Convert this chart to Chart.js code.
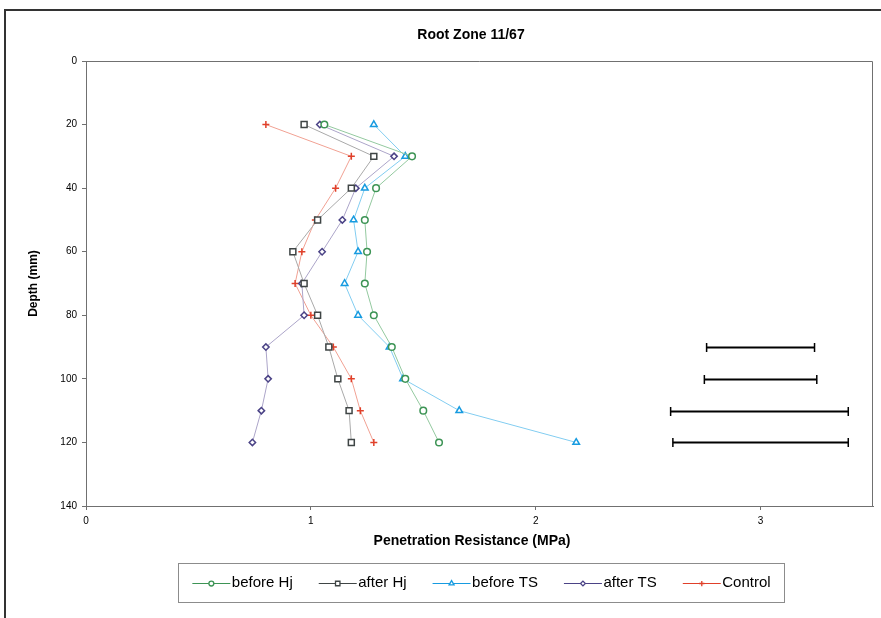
<!DOCTYPE html>
<html>
<head>
<meta charset="utf-8">
<title>Root Zone 11/67</title>
<script src="https://cdn.jsdelivr.net/npm/chart.js@4.4.1/dist/chart.umd.min.js"></script>
<style>
    html, body { margin: 0; padding: 0; background: #fff; overflow: hidden; }
    #wrap { position: relative; width: 881px; height: 618px; overflow: hidden; }
    #frame { position: absolute; left: 4px; top: 9px; width: 1000px; height: 1000px; border: 2px solid #333; }
    #rootZoneChart { position: absolute; left: 0; top: 0; }
</style>
</head>
<body>
<div id="wrap">
    <div id="frame"></div>
    <canvas id="rootZoneChart" width="881" height="618"></canvas>
</div>
<script>
// Depth (mm) of each reading
var depths = [20, 30, 40, 50, 60, 70, 80, 90, 100, 110, 120];

// Penetration resistance (MPa) per treatment
var beforeHj = [1.06, 1.45, 1.29, 1.24, 1.25, 1.24, 1.28, 1.36, 1.42, 1.50, 1.57];
var afterHj  = [0.97, 1.28, 1.18, 1.03, 0.92, 0.97, 1.03, 1.08, 1.12, 1.17, 1.18];
var beforeTS = [1.28, 1.42, 1.24, 1.19, 1.21, 1.15, 1.21, 1.35, 1.41, 1.66, 2.18];
var afterTS  = [1.04, 1.37, 1.20, 1.14, 1.05, 0.96, 0.97, 0.80, 0.81, 0.78, 0.74];
var control  = [0.80, 1.18, 1.11, 1.02, 0.96, 0.93, 1.00, 1.10, 1.18, 1.22, 1.28];

var seriesNames = ['before Hj', 'after Hj', 'before TS', 'after TS', 'Control'];

// LSD style error bars drawn at the right of the plot
var errDepths = [90, 100, 110, 120];
var errLow    = [2.76, 2.75, 2.60, 2.61];
var errHigh   = [3.24, 3.25, 3.39, 3.39];

var yTicks = [0, 20, 40, 60, 80, 100, 120, 140];
var xTicks = [0, 1, 2, 3];

var fontFamily = "'Liberation Sans', Arial, Helvetica, sans-serif";

function toPoints(values) {
    return values.map(function (v, i) { return { x: v, y: depths[i] }; });
}

function makeSeries(label, values, markerColor, lineColor, style, radius) {
    return {
        label: label,
        data: toPoints(values),
        showLine: true,
        borderColor: lineColor,
        borderWidth: 1,
        pointStyle: style,
        pointRadius: radius,
        pointBorderColor: markerColor,
        pointBackgroundColor: '#ffffff',
        pointBorderWidth: 1.5,
        legendColor: markerColor
    };
}

// Plot frame (top and right) plus the titles
var frameAndTitles = {
    id: 'frameAndTitles',
    afterDraw: function (chart) {
        var ctx = chart.ctx;
        var area = chart.chartArea;
        ctx.save();
        ctx.strokeStyle = '#707070';
        ctx.lineWidth = 1;
        ctx.beginPath();
        ctx.moveTo(area.left, Math.round(area.top) + 0.5);
        ctx.lineTo(Math.round(area.right) - 0.5, Math.round(area.top) + 0.5);
        ctx.lineTo(Math.round(area.right) - 0.5, area.bottom);
        ctx.stroke();

        ctx.fillStyle = '#000';
        ctx.textAlign = 'center';
        ctx.textBaseline = 'middle';
        ctx.font = 'bold 14px ' + fontFamily;
        ctx.fillText('Root Zone 11/67', 471, 35);
        ctx.fillText('Penetration Resistance (MPa)', 472, 541);
        ctx.restore();
    }
};

var errorBars = {
    id: 'errorBars',
    afterDatasetsDraw: function (chart) {
        var ctx = chart.ctx;
        var xs = chart.scales.x;
        var ys = chart.scales.y;
        ctx.save();
        ctx.strokeStyle = '#000';
        errDepths.forEach(function (d, i) {
            var y = Math.round(ys.getPixelForValue(d)) + 0.5;
            var x1 = xs.getPixelForValue(errLow[i]);
            var x2 = xs.getPixelForValue(errHigh[i]);
            ctx.lineWidth = 2;
            ctx.beginPath();
            ctx.moveTo(x1, y);
            ctx.lineTo(x2, y);
            ctx.stroke();
            ctx.lineWidth = 1.5;
            ctx.beginPath();
            ctx.moveTo(x1, y - 4.5);
            ctx.lineTo(x1, y + 4.5);
            ctx.moveTo(x2, y - 4.5);
            ctx.lineTo(x2, y + 4.5);
            ctx.stroke();
        });
        ctx.restore();
    }
};

// Excel-like legend: short line with the marker in the middle, then the name
var lineMarkerLegend = {
    id: 'lineMarkerLegend',
    afterDraw: function (chart) {
        var ctx = chart.ctx;
        var lineLen = 38, textGap = 1.5, itemGap = 26;
        var boxLeft = 178.5, boxRight = 784.5, boxTop = 563.5, boxBottom = 602.5;
        var y = 583;
        ctx.save();
        ctx.font = '15px ' + fontFamily;
        var total = 0;
        chart.data.datasets.forEach(function (ds, i) {
            total += lineLen + textGap + ctx.measureText(ds.label).width;
            if (i > 0) total += itemGap;
        });

        ctx.strokeStyle = '#8c8c8c';
        ctx.lineWidth = 1;
        ctx.strokeRect(boxLeft, boxTop, boxRight - boxLeft, boxBottom - boxTop);

        var x = (boxLeft + boxRight) / 2 - total / 2;
        chart.data.datasets.forEach(function (ds) {
            ctx.strokeStyle = ds.legendColor;
            ctx.lineWidth = 1;
            ctx.beginPath();
            ctx.moveTo(x, y + 0.5);
            ctx.lineTo(x + lineLen, y + 0.5);
            ctx.stroke();

            ctx.fillStyle = '#ffffff';
            ctx.lineWidth = 1.3;
            Chart.helpers.drawPoint(ctx, {
                pointStyle: ds.pointStyle,
                radius: ds.pointRadius * 0.75,
                borderWidth: 1.3,
                rotation: 0
            }, x + lineLen / 2, y + 0.5);

            ctx.fillStyle = '#000';
            ctx.textAlign = 'left';
            ctx.textBaseline = 'middle';
            ctx.fillText(ds.label, x + lineLen + textGap, y);
            x += lineLen + textGap + ctx.measureText(ds.label).width + itemGap;
        });
        ctx.restore();
    }
};

document.addEventListener("DOMContentLoaded", function () {
    var ctx = document.getElementById('rootZoneChart').getContext('2d');

    new Chart(ctx, {
        type: 'scatter',
        data: {
            datasets: [
                makeSeries(seriesNames[0], beforeHj, '#3d9455', '#93c99f', 'circle', 3.3),
                makeSeries(seriesNames[1], afterHj, '#3f4545', '#a9a9a9', 'rect', 4.2),
                makeSeries(seriesNames[2], beforeTS, '#179be0', '#82cdf1', 'triangle', 3.8),
                makeSeries(seriesNames[3], afterTS, '#4b4386', '#aca5c9', 'rectRot', 3.2),
                makeSeries(seriesNames[4], control, '#e0402a', '#f1a193', 'cross', 3.5)
            ]
        },
        options: {
            responsive: false,
            animation: false,
            devicePixelRatio: 1,
            layout: {
                padding: { top: 61, left: 10, right: 8, bottom: 86 }
            },
            plugins: {
                legend: { display: false },
                title: { display: false },
                tooltip: { enabled: false }
            },
            scales: {
                x: {
                    type: 'linear',
                    min: 0,
                    max: 3.5,
                    afterBuildTicks: function (scale) {
                        scale.ticks = xTicks.map(function (v) { return { value: v }; });
                    },
                    afterFit: function (scale) { scale.height = 26; },
                    border: { display: true, color: '#707070', width: 1 },
                    grid: { display: true, drawOnChartArea: false, drawTicks: true, tickLength: 4, color: '#707070' },
                    ticks: {
                        color: '#000',
                        padding: 5,
                        font: { family: fontFamily, size: 10 }
                    }
                },
                y: {
                    type: 'linear',
                    reverse: true,
                    min: 0,
                    max: 140,
                    afterBuildTicks: function (scale) {
                        scale.ticks = yTicks.map(function (v) { return { value: v }; });
                    },
                    afterFit: function (scale) { scale.width = 76; },
                    border: { display: true, color: '#707070', width: 1 },
                    grid: { display: true, drawOnChartArea: false, drawTicks: true, tickLength: 4, color: '#707070' },
                    ticks: {
                        color: '#000',
                        padding: 5,
                        font: { family: fontFamily, size: 10 }
                    },
                    title: {
                        display: true,
                        text: 'Depth (mm)',
                        color: '#000',
                        font: { family: fontFamily, size: 12, weight: 'bold' },
                        padding: { top: 16, bottom: 0 }
                    }
                }
            }
        },
        plugins: [errorBars, frameAndTitles, lineMarkerLegend]
    });
});
</script>
</body>
</html>
